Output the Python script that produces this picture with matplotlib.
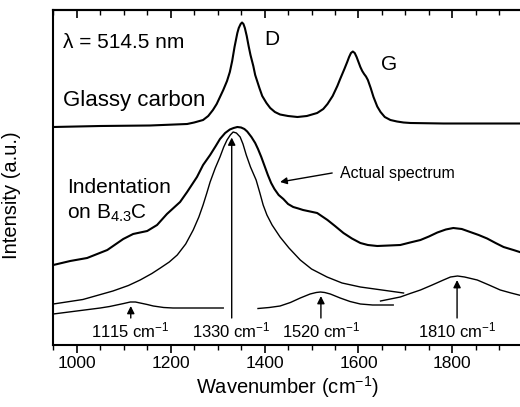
import numpy as np
import matplotlib
matplotlib.use("Agg")
import matplotlib.pyplot as plt

plt.rcParams['font.family'] = ['Liberation Sans', 'DejaVu Sans']
plt.rcParams['mathtext.default'] = 'regular'

# ---------------- data ----------------
wn_glassy = [950, 1050, 1156, 1235, 1250, 1269, 1280, 1290, 1298, 1305, 1312, 1320,
             1326, 1331, 1336, 1342, 1345, 1349, 1352, 1355, 1358, 1362, 1366, 1370,
             1376, 1380, 1389, 1395, 1404, 1412, 1422, 1433, 1450, 1470, 1490, 1512,
             1525, 1534, 1545, 1555, 1561, 1570, 1576, 1580, 1584, 1588, 1592, 1596,
             1600, 1604, 1608, 1612, 1616, 1620, 1626, 1632, 1640, 1647, 1656, 1668,
             1682, 1696, 1711, 1781, 1860, 1950]
int_glassy = [218, 219, 219.5, 221, 222.5, 225, 229, 235, 241, 248, 255, 264,
              273, 284, 298, 312, 317, 321, 322.5, 321, 317, 309, 299, 290,
              279, 270, 257, 249, 242, 237, 233, 230.5, 229, 228, 229, 232,
              236, 241, 249, 259, 266, 276, 283, 288, 292, 293.5, 292, 288,
              283, 278, 274, 271, 268.5, 265, 257, 248, 238.5, 233, 228, 225,
              223.5, 222.5, 222, 221.5, 221.5, 221.5]

wn_indent = [950, 986, 1022, 1065, 1099, 1120, 1150, 1171, 1192, 1220, 1235, 1256,
             1269, 1284, 1296, 1305, 1316, 1326, 1334, 1342, 1350, 1357, 1363, 1372,
             1380, 1386, 1393, 1400, 1407, 1414, 1421, 1430, 1440, 1450, 1461, 1472,
             1482, 1497, 1512, 1534, 1550, 1568, 1586, 1604, 1620, 1640, 1665, 1689,
             1710, 1732, 1750, 1768, 1786, 1802, 1820, 1838, 1856, 1874, 1892, 1909,
             1930, 1950]
int_indent = [80, 84, 87, 95, 106, 111, 114, 120, 131, 143, 153, 168,
              180, 190, 199, 206, 212, 215.5, 217, 218, 217.5, 216, 213.5, 208,
              202, 196, 188, 179, 170, 162, 156, 150, 146, 141, 138, 136.5,
              135, 133.5, 132, 125, 119, 112, 106.5, 102, 100, 99, 99.5, 100,
              102.5, 105, 108.5, 112.5, 115.5, 117, 116, 113, 110, 106.5, 102, 98,
              95, 92]

wn_c1115 = [950, 1000, 1050, 1070, 1085, 1100, 1114, 1125, 1135, 1150, 1163, 1185,
            1205, 1250, 1312]
int_c1115 = [31, 34, 37, 38.5, 40, 41.5, 43, 43, 42, 40.5, 39, 37.5,
             37, 37, 37]

wn_c1330 = [950, 1013, 1077, 1110, 1135, 1160, 1178, 1197, 1214, 1232, 1248, 1260,
            1269, 1277, 1284, 1295, 1305, 1313, 1320, 1327, 1333, 1340, 1348, 1354,
            1361, 1370, 1382, 1390, 1397, 1405, 1416, 1433, 1452, 1476, 1500, 1533,
            1565, 1604, 1650, 1696]
int_c1330 = [41, 45.5, 54, 59.5, 65, 71.5, 77, 83, 90, 101, 115, 128,
             140, 152, 163, 177, 188, 198, 205, 210, 213, 212, 208, 201,
             190, 178, 165, 152, 140, 130, 120, 108, 97, 85, 76, 68,
             62, 58, 55, 52]

wn_c1520 = [1386, 1410, 1433, 1455, 1476, 1497, 1510, 1519, 1528, 1540, 1561, 1582,
            1604, 1630, 1674]
int_c1520 = [36.5, 37.5, 39, 42.5, 47, 51, 52.5, 53, 52.5, 51, 47, 43.5,
             41, 40, 40]

wn_c1810 = [1647, 1668, 1689, 1710, 1732, 1757, 1781, 1796, 1811, 1826, 1853, 1878,
            1902, 1925, 1950]
int_c1810 = [44, 46, 48, 51.5, 55, 60, 65, 68, 69, 68, 65, 60,
             55, 52, 49]

peak_positions = [1115, 1330, 1520, 1810]
peak_labels = ['1115 cm$^{-1}$', '1330 cm$^{-1}$', '1520 cm$^{-1}$', '1810 cm$^{-1}$']
major_ticks = [1000, 1200, 1400, 1600, 1800]

# ---------------- figure ----------------
fig = plt.figure(figsize=(5.2, 4.07), dpi=100)
ax = fig.add_axes([53.3 / 520, 62 / 407, (522.8 - 53.3) / 520, 335 / 407])

ax.plot(wn_glassy, int_glassy, color='black', lw=1.5, solid_joinstyle='round')
ax.plot(wn_indent, int_indent, color='black', lw=1.5, solid_joinstyle='round')
components = [(wn_c1115, int_c1115), (wn_c1330, int_c1330),
              (wn_c1520, int_c1520), (wn_c1810, int_c1810)]
for w, i in components:
    ax.plot(w, i, color='black', lw=1.0, solid_joinstyle='round')

ax.set_xlim(950, 1950)
ax.set_ylim(0, 335)

# peak arrows + labels
for pk, lab, (w, i) in zip(peak_positions, peak_labels, components):
    tip = np.interp(pk, w, i) - 4
    ax.annotate('', xy=(pk, tip), xytext=(pk, 27),
                arrowprops=dict(arrowstyle='-|>', color='black', lw=1.0,
                                mutation_scale=11, shrinkA=0, shrinkB=0))
    ax.text(pk, 8, lab, ha='center', va='baseline', fontsize=12)

# text annotations
ax.text(971, 297, 'λ = 514.5 nm', ha='left', va='baseline', fontsize=15)
ax.text(971, 239, 'Glassy carbon', ha='left', va='baseline', fontsize=16)
ax.text(1416, 300, 'D', ha='center', va='baseline', fontsize=15)
ax.text(1666, 275, 'G', ha='center', va='baseline', fontsize=15)
ax.text(979, 152, 'Indentation', ha='left', va='baseline', fontsize=15)
ax.text(979, 126, 'on B$_{4.3}$C', ha='left', va='baseline', fontsize=15)
ax.text(1561, 167, 'Actual spectrum', ha='left', va='baseline', fontsize=11.5)
ax.annotate('', xy=(1433, 163), xytext=(1544, 172),
            arrowprops=dict(arrowstyle='-|>', color='black', lw=1.0,
                            mutation_scale=10, shrinkA=0, shrinkB=0))

# axes styling
for s in ['left', 'bottom', 'top']:
    ax.spines[s].set_linewidth(1.5)
ax.spines['right'].set_visible(False)
ax.set_yticks([])
ax.set_xticks(major_ticks)
ax.set_xticks(np.arange(950, 1951, 50), minor=True)
ax.tick_params(axis='x', which='major', direction='out', length=6, width=1.2,
               labelsize=12.5, pad=2)
ax.tick_params(axis='x', which='minor', direction='out', length=3.5, width=1.0)

top = ax.secondary_xaxis('top')
top.set_xticks(major_ticks)
top.set_xticks(np.arange(950, 1951, 50), minor=True)
top.tick_params(axis='x', which='major', direction='in', length=6, width=1.2,
                labeltop=False)
top.tick_params(axis='x', which='minor', direction='in', length=3.5, width=1.0)
top.spines['top'].set_linewidth(1.5)

ax.set_xlabel('Wavenumber (cm$^{-1}$)', fontsize=14.5)
ax.xaxis.set_label_coords(0.498, -0.088)
ax.set_ylabel('Intensity (a.u.)', fontsize=14.5)
ax.yaxis.set_label_coords(-0.069, 0.448)

fig.savefig('out.png', dpi=100)
